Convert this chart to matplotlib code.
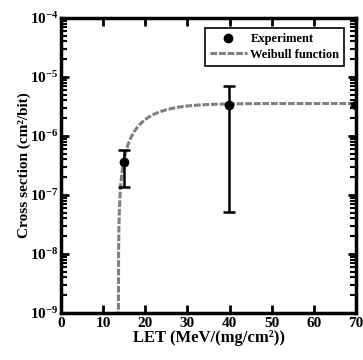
import numpy as np
import matplotlib
matplotlib.use("Agg")
import matplotlib.pyplot as plt
from matplotlib.ticker import FixedLocator, LogLocator, FuncFormatter, NullFormatter
from matplotlib.lines import Line2D

plt.rcParams['font.family'] = ['Liberation Serif', 'DejaVu Serif']
plt.rcParams['font.weight'] = 'bold'
plt.rcParams['mathtext.fontset'] = 'custom'
plt.rcParams['mathtext.rm'] = 'Liberation Serif:bold'
plt.rcParams['mathtext.bf'] = 'Liberation Serif:bold'

# Experimental data
let_exp = [15.0, 39.8, 70.0]
sigma_exp = [3.6e-7, 3.4e-6, 3.4e-6]
err_low = [1.35e-7, 5.2e-8, 3.2e-6]
err_high = [5.8e-7, 6.9e-6, 3.6e-6]

# Weibull fit parameters
sigma_sat = 3.55e-6
L0 = 13.6
W = 8.0
s = 1.2

x_ticks = [0, 10, 20, 30, 40, 50, 60, 70]
y_ticks = [1e-9, 1e-8, 1e-7, 1e-6, 1e-5, 1e-4]

fig = plt.figure(figsize=(3.63, 3.60), dpi=100)
ax = fig.add_axes([0.168, 0.131, 0.813, 0.819])

L = np.linspace(L0 + 1e-6, 70, 2000)
sig = sigma_sat * (1 - np.exp(-((L - L0) / W) ** s))
dash = (0, (2.2, 0.6))
ax.plot(L, sig, color='#808080', lw=2.2, linestyle=dash, zorder=2)

yerr = [np.array(sigma_exp) - np.array(err_low), np.array(err_high) - np.array(sigma_exp)]
ax.errorbar(let_exp, sigma_exp, yerr=yerr, fmt='o', color='black', ms=6,
            elinewidth=1.8, capsize=4.5, capthick=1.8, zorder=3)

ax.set_yscale('log')
ax.set_xlim(0, 70)
ax.set_ylim(1e-9, 1e-4)
ax.xaxis.set_major_locator(FixedLocator(x_ticks))
ax.yaxis.set_major_locator(FixedLocator(y_ticks))
minor = [m * d for d in y_ticks[:-1] for m in range(2, 10)]
ax.yaxis.set_minor_locator(FixedLocator(minor))
ax.yaxis.set_minor_formatter(NullFormatter())
ax.yaxis.set_major_formatter(FuncFormatter(lambda v, p: r'$\mathbf{10^{%d}}$' % int(round(np.log10(v)))))

ax.tick_params(which='both', direction='in', top=True, right=True, width=2, labelsize=11)
ax.tick_params(which='major', length=6)
ax.tick_params(which='minor', length=4, width=1.5)
ax.tick_params(axis='y', pad=2)
ax.tick_params(axis='x', pad=3)
for lab in ax.get_xticklabels():
    lab.set_fontweight('bold')
for sp in ax.spines.values():
    sp.set_linewidth(2.5)

ax.set_xlabel('LET (MeV/(mg/cm²))', fontsize=12, fontweight='bold', labelpad=0)
ax.set_ylabel('Cross section (cm²/bit)', fontsize=11, fontweight='bold', labelpad=-1)

h_exp = Line2D([], [], marker='o', color='black', ls='none', ms=6)
h_w = Line2D([], [], color='#808080', lw=2.2, linestyle=dash)
leg = ax.legend([h_exp, h_w], ['Experiment', 'Weibull function'], loc='upper right',
                bbox_to_anchor=(0.96, 0.966), bbox_transform=ax.transAxes,
                fancybox=False, edgecolor='black', framealpha=1, fontsize=9,
                borderaxespad=0, handlelength=3.0, handletextpad=0.25,
                borderpad=0.4, labelspacing=0.3)
leg.get_frame().set_linewidth(1.2)
for t in leg.get_texts():
    t.set_fontweight('bold')

fig.savefig('out.png', dpi=100)
